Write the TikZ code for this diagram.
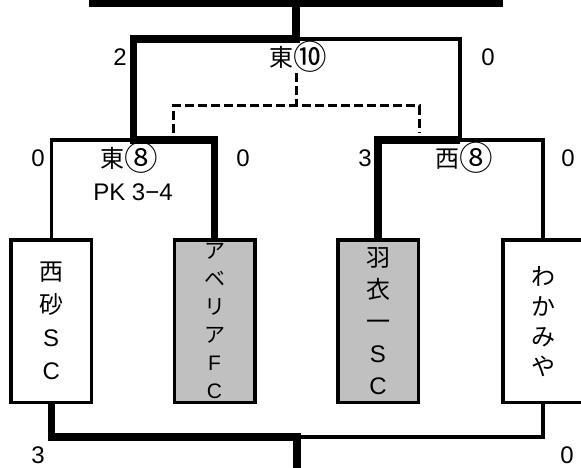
\documentclass[tikz,border=0pt]{standalone}
\usepackage{graphicx}
\usepackage{fontspec}
\setmainfont{Liberation Sans}
\newfontfamily\jp{Noto Sans CJK JP}
\newcommand\circnum[1]{\raisebox{-0.13em}{\scalebox{1.4}{#1}}}
\begin{document}
\begin{tikzpicture}[x=1pt,y=-1pt,
  heavy/.style={line width=7.5pt, line join=miter},
  light/.style={line width=3.5pt, line join=miter},
  dashline/.style={line width=3pt, dash pattern=on 9pt off 4pt},
  team/.style={draw, line width=3.5pt, minimum width=80.5pt, minimum height=162.5pt,
    inner sep=0pt, align=center, font=\fontsize{24}{33}\selectfont},
  winner/.style={team, fill={rgb,255:red,192;green,192;blue,192}},
  loser/.style={team, fill=white},
  lab/.style={inner sep=0pt, font=\fontsize{24}{28}\selectfont},
  jlab/.style={inner sep=0pt, font=\jp\fontsize{24}{28}\selectfont}
]
\clip (0,0) rectangle (581,468);
\fill[white] (0,0) rectangle (581,468);

% junction coordinates
\coordinate (topL) at (89,3.5);
\coordinate (topR) at (503,3.5);
\coordinate (top) at (296,3.5);
\coordinate (semi) at (296,39);
\coordinate (semiL) at (133.5,39);
\coordinate (semiR) at (460,39);
\coordinate (qL) at (133.5,140);
\coordinate (qLa) at (51.25,140);
\coordinate (qLb) at (214.5,140);
\coordinate (qR) at (460,140);
\coordinate (qRa) at (378,140);
\coordinate (qRb) at (543,140);
\coordinate (botL) at (51.25,437);
\coordinate (bot) at (297,437);
\coordinate (botR) at (543,437);
\coordinate (botEnd) at (297,475);
\coordinate (dTop) at (296,73);
\coordinate (dMid) at (296,106);
\coordinate (dL) at (173,106);
\coordinate (dLb) at (173,133);
\coordinate (dR) at (419,106);
\coordinate (dRb) at (419,133);

% team boxes (positions for connectors)
\path (51.25,321.25) node[team, draw=none] (t1) {}
      (214.5,321.25) node[team, draw=none] (t2) {}
      (378,321.25)   node[team, draw=none] (t3) {}
      (543,321.25)   node[team, draw=none] (t4) {};

% thin lines
\draw[light] (semi) -- (semiR) -- (qR);
\draw[light] (qL) -- (qLa) -- (t1.north);
\draw[light] (qR) -- (qRb) -- (t4.north);
\draw[light] (bot) -- (botR) -- (t4.south);

% thick lines
\draw[heavy] (topL) -- (topR);
\draw[heavy] (top) -- (semi) -- (semiL) -- (qL) -- (qLb) -- (t2.north);
\draw[heavy] (qR) -- (qRa) -- (t3.north);
\draw[heavy] (t1.south) -- (botL) -- (bot) -- (botEnd);

% dashed
\draw[dashline] (dTop) -- (dMid);
\draw[dashline] (dLb) -- (dL) -- (dR) -- (dRb);

% boxes with names
\node[loser]  at (t1) {{\jp 西}\\{\jp 砂}\\S\\C};
\node[winner, font=\fontsize{21}{28}\selectfont] at (t2) {{\jp ア}\\{\jp ベ}\\{\jp リ}\\{\jp ア}\\F\\C};
\node[winner, font=\fontsize{24}{32}\selectfont] at (t3) {{\jp 羽}\\{\jp 衣}\\{\jp 一}\\S\\C};
\node[loser, font=\fontsize{24}{30}\selectfont] at (t4) {{\jp わ}\\{\jp か}\\{\jp み}\\{\jp や}};

% labels
\node[lab]  (s1) at (120,57) {2};
\node[jlab] (r1) at (298,57) {東\circnum{⑩}};
\node[lab]  (s2) at (488,57) {0};
\node[lab]  (s3) at (38,158) {0};
\node[jlab] (r2) at (129,158) {東\circnum{⑧}};
\node[lab]  (pk) at (133,192) {PK 3−4};
\node[lab]  (s4) at (243,158) {0};
\node[lab]  (s5) at (365,158) {3};
\node[jlab] (r3) at (464,158) {西\circnum{⑧}};
\node[lab]  (s6) at (568,158) {0};
\node[lab]  (s7) at (38,455) {3};
\node[lab]  (s8) at (567,455) {0};
\end{tikzpicture}
\end{document}
